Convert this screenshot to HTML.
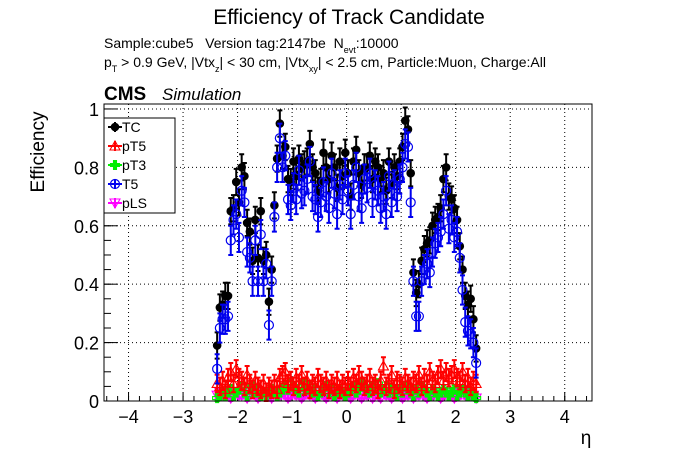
<!DOCTYPE html>
<html><head><meta charset="utf-8"><style>
body{margin:0;background:#fff;}
svg{display:block;font-family:"Liberation Sans",sans-serif;}
.pre{white-space:pre;}
</style></head><body>
<svg id="chart" width="696" height="472" viewBox="0 0 696 472">
<rect width="696" height="472" fill="#fff"/>
<text x="349" y="24" font-size="21" text-anchor="middle">Efficiency of Track Candidate</text>
<text class="pre" x="104" y="48" font-size="14">Sample:cube5   Version tag:2147be  N<tspan font-size="9" dy="5">evt</tspan><tspan dy="-5">:10000</tspan></text>
<text class="pre" x="104" y="67" font-size="14">p<tspan font-size="9" dy="5">T</tspan><tspan dy="-5"> &gt; 0.9 GeV, |Vtx</tspan><tspan font-size="9" dy="5">z</tspan><tspan dy="-5">| &lt; 30 cm, |Vtx</tspan><tspan font-size="9" dy="5">xy</tspan><tspan dy="-5">| &lt; 2.5 cm, Particle:Muon, Charge:All</tspan></text>
<text x="104" y="100" font-size="19" font-weight="bold">CMS</text>
<text x="162" y="100" font-size="17" font-style="italic">Simulation</text>
<text transform="translate(44,152) rotate(-90)" font-size="19" text-anchor="middle">Efficiency</text>
<text x="586" y="444" font-size="19" text-anchor="middle">η</text>
<g id="grid"></g><g id="axes"></g><g id="marks"></g>
<rect x="104" y="104" width="488" height="297" fill="none" stroke="#000" stroke-width="1"/>
<g id="legend"></g>
</svg>
<script>
const etaStart=-2.375, etaStep=0.05;
const tcVals=[.19,.32,.33,.36,.36,.65,.66,.75,.68,.80,.77,.61,.58,.48,.62,.49,.65,.48,.50,.34,.45,.67,.83,.95,.84,.87,.76,.75,.82,.77,.83,.80,.81,.82,.88,.80,.78,.72,.75,.85,.80,.76,.84,.80,.73,.82,.77,.85,
.78,.70,.82,.86,.78,.74,.80,.80,.84,.76,.82,.80,.76,.78,.72,.82,.74,.80,.77,.82,.87,.96,.93,.78,.44,.37,.40,.48,.52,.54,.55,.60,.62,.63,.66,.76,.80,.70,.69,.66,.62,.53,.45,.36,.33,.35,.28,.18];
const t5Vals=[.11,.25,.28,.28,.29,.55,.62,.64,.56,.72,.68,.51,.49,.41,.55,.41,.57,.41,.47,.26,.41,.63,.80,.90,.80,.84,.69,.67,.73,.69,.79,.71,.72,.76,.82,.70,.69,.63,.68,.75,.70,.66,.78,.71,.64,.74,.69,.78,
.72,.64,.74,.80,.70,.66,.76,.73,.78,.68,.74,.72,.66,.70,.64,.77,.68,.74,.70,.76,.80,.88,.87,.68,.41,.29,.29,.41,.45,.47,.44,.51,.54,.56,.58,.64,.72,.59,.62,.56,.58,.49,.38,.27,.24,.23,.20,.13];
const pt5Vals=[.06,.05,.07,.04,.08,.10,.06,.11,.08,.07,.05,.09,.06,.04,.07,.05,.04,.06,.03,.05,.04,.06,.04,.08,.09,.10,.06,.07,.05,.08,.06,.09,.05,.07,.04,.06,.05,.08,.06,.05,.07,.04,.06,.05,.07,.04,.06,.05,
.07,.05,.08,.06,.09,.07,.05,.06,.08,.05,.06,.04,.07,.12,.05,.06,.09,.04,.07,.06,.05,.08,.06,.05,.07,.06,.09,.05,.08,.06,.10,.07,.06,.09,.11,.07,.10,.08,.09,.11,.08,.07,.10,.06,.08,.05,.07,.06];
const pt3Vals=[.01,.02,.03,.02,.03,.04,.02,.03,.04,.05,.03,.02,.04,.05,.03,.04,.02,.03,.02,.03,.04,.03,.02,.03,.04,.05,.04,.06,.05,.04,.03,.05,.06,.04,.05,.03,.04,.02,.03,.04,.05,.03,.04,.02,.03,.04,.03,.02,
.03,.04,.05,.03,.04,.06,.05,.04,.03,.05,.04,.06,.03,.04,.05,.03,.04,.03,.02,.04,.03,.05,.04,.03,.02,.04,.03,.05,.04,.03,.02,.04,.03,.02,.03,.04,.03,.02,.03,.04,.02,.03,.04,.03,.02,.03,.02,.01];
const plsVals=[.02,.03,.02,.03,.02,.01,.02,.03,.02,.02,.03,.01,.02,.03,.02,.01,.02,.03,.02,.02,.01,.03,.02,.02,.03,.02,.01,.02,.03,.02,.02,.01,.02,.03,.02,.02,.01,.02,.03,.02,.01,.02,.02,.03,.01,.02,.02,.03,
.02,.01,.02,.03,.02,.01,.02,.02,.03,.01,.02,.02,.01,.03,.02,.02,.01,.02,.03,.02,.01,.02,.02,.03,.01,.02,.02,.03,.02,.01,.02,.02,.03,.02,.01,.02,.03,.02,.02,.01,.03,.02,.04,.02,.03,.02,.02,.01];
const xTicks=[-4,-3,-2,-1,0,1,2,3,4];
const yTicks=[0,0.2,0.4,0.6,0.8,1];
const yTickLabels=["0","0.2","0.4","0.6","0.8","1"];

const NS="http://www.w3.org/2000/svg";
const X0=104,X1=592,Y0=401,Y1=104,xmin=-4.45,xmax=4.5,ymin=0,ymax=1.017;
function xs(v){return X0+(v-xmin)/(xmax-xmin)*(X1-X0);}
function ys(v){return Y0-(v-ymin)/(ymax-ymin)*(Y0-Y1);}
function mk(tag,attrs,parent){const e=document.createElementNS(NS,tag);for(const k in attrs)e.setAttribute(k,attrs[k]);parent.appendChild(e);return e;}
const grid=document.getElementById('grid'),axes=document.getElementById('axes'),marks=document.getElementById('marks'),legend=document.getElementById('legend');

xTicks.forEach(t=>{
  const x=xs(t);
  const l=mk('line',{x1:x,x2:x,y1:Y1,y2:Y0,stroke:'#000','stroke-dasharray':'1,3','stroke-width':1},grid);
  
  
  const tk=mk('line',{x1:x,x2:x,y1:Y0,y2:Y0-9,stroke:'#000'},axes);
  
  
  const tx=mk('text',{x:x,y:423,'font-size':18,'text-anchor':'middle'},axes);
  tx.textContent=t<0?'−'+Math.abs(t):String(t);
  
  
});
for(let v=-4.4;v<=4.45;v+=0.2){const x=xs(v);const m=mk('line',{x1:x,x2:x,y1:Y0,y2:Y0-5,stroke:'#000'},axes);}
yTicks.forEach((t,i)=>{
  const y=ys(t);
  if(t>0&&t<1.01){const l=mk('line',{x1:X0,x2:X1,y1:y,y2:y,stroke:'#000','stroke-dasharray':'1,3'},grid);}
  const tk=mk('line',{x1:X0,x2:X0+14,y1:y,y2:y,stroke:'#000'},axes);
  
  
  const tx=mk('text',{x:99,y:y+7,'font-size':18,'text-anchor':'end'},axes);
  tx.textContent=yTickLabels[i];
  
  
});
for(let v=0.05;v<1.01;v+=0.05){const y=ys(v);const m=mk('line',{x1:X0,x2:X0+7,y1:y,y2:y,stroke:'#000'},axes);}

function marker(g,type,color,x,y){
  let e;
  if(type==='fcircle'){e=mk('circle',{cx:x,cy:y,r:4.3,fill:color},g);}
  else if(type==='ocircle'){e=mk('circle',{cx:x,cy:y,r:4.5,fill:'none',stroke:color,'stroke-width':1.2},g);}
  else if(type==='tri'){e=mk('polygon',{points:`${x},${y-5} ${x-5},${y+4} ${x+5},${y+4}`,fill:'none',stroke:color,'stroke-width':1.1},g);}
  else if(type==='cross'){e=mk('polygon',{points:`${x-1.5},${y-4.5} ${x+1.5},${y-4.5} ${x+1.5},${y-1.5} ${x+4.5},${y-1.5} ${x+4.5},${y+1.5} ${x+1.5},${y+1.5} ${x+1.5},${y+4.5} ${x-1.5},${y+4.5} ${x-1.5},${y+1.5} ${x-4.5},${y+1.5} ${x-4.5},${y-1.5} ${x-1.5},${y-1.5}`,fill:'none',stroke:color,'stroke-width':1.1},g);}
  else {e=mk('polygon',{points:`${x},${y+5} ${x-5},${y-4} ${x+5},${y-4}`,fill:'none',stroke:color,'stroke-width':1.1},g);}
  return e;
}
const series=[
 {name:'pLS',vals:plsVals,color:'#ff00ff',type:'dtri',err:0.012},
 {name:'pT3',vals:pt3Vals,color:'#00ee00',type:'cross',err:0.015},
 {name:'pT5',vals:pt5Vals,color:'#ff0000',type:'tri',err:0.03},
 {name:'TC',vals:tcVals,color:'#000000',type:'fcircle',err:0.045},
 {name:'T5',vals:t5Vals,color:'#0000ee',type:'ocircle',err:0.05}
];
series.forEach(s=>{
  const g=mk('g',{},marks);
  
  
  s.vals.forEach((v,i)=>{
    const x=xs(etaStart+i*etaStep),y=ys(v),ya=ys(v+s.err),yb=ys(Math.max(0,v-s.err));
    const eb=mk('path',{d:`M${x},${ya}V${yb}M${x-2.5},${ya}H${x+2.5}M${x-2.5},${yb}H${x+2.5}`,stroke:s.color,'stroke-width':2,fill:'none'},g);
    
    
    const m=marker(g,s.type,s.color,x,y);
    
    
  });
});
const lb=mk('rect',{x:104,y:118,width:71,height:95,fill:'#fff',stroke:'#000'},legend);


const leg=[['TC','fcircle','#000000'],['pT5','tri','#ff0000'],['pT3','cross','#00ee00'],['T5','ocircle','#0000ee'],['pLS','dtri','#ff00ff']];
leg.forEach((l,i)=>{
  const y=127+i*19;
  const g=mk('g',{},legend);
  
  
  mk('path',{d:`M108,${y}H122M115,${y-5}V${y+5}`,stroke:l[2],'stroke-width':2},g);
  marker(g,l[1],l[2],115,y);
  const t=mk('text',{x:122,y:y+5,'font-size':14},g);
  t.textContent=l[0];
});
</script>
</body></html>
